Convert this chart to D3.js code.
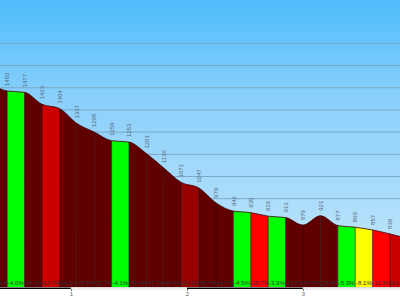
<!DOCTYPE html>
<html>
<head>
<meta charset="utf-8">
<script src="https://cdn.jsdelivr.net/npm/d3@7"></script>
<style>
  html, body { margin: 0; padding: 0; background: #ffffff; }
  svg { display: block; }
</style>
</head>
<body>
<div id="profile"></div>
<script>
// distance of every section boundary (km) and the elevation read there (m)
const DIST_KM = [0.30, 0.45, 0.60, 0.75, 0.90, 1.05, 1.20, 1.35, 1.50, 1.65, 1.80, 1.95, 2.10,
                 2.25, 2.40, 2.55, 2.70, 2.85, 3.00, 3.15, 3.30, 3.45, 3.60, 3.75, 3.90];
const ELEVATION = [1521, 1483, 1477, 1423, 1404, 1337, 1298, 1259, 1253, 1201, 1136, 1071, 1047,
                   979, 942, 935, 919, 913, 879, 921, 877, 869, 857, 839, 819];
// gradient of each section (%) as printed at the foot of the column
const GRADES = [-25.1, -4.0, -36.3, -12.7, -44.9, -25.8, -25.7, -4.1, -35.4, -43.7, -44.7, -16.1,
                -45.7, -24.7, -4.5, -10.7, -3.9, -23.0, 28.0, -28.9, -5.3, -8.1, -11.9, -13.3];
// km ticks and elevation grid lines
const KM_TICKS = [1, 2, 3];
const GRID_M = [1000, 1100, 1200, 1300, 1400, 1500, 1600, 1700];

const WIDTH = 400;
const HEIGHT = 300;
const BASE = 287;   // bottom of the coloured columns

const SVG = d3.select("#profile")
              .append("svg")
                .attr("width", WIDTH)
                .attr("height", HEIGHT);

// scales
const X_SCALE = d3.scaleLinear()
                  .domain([0, 1])
                  .range([-45, 71]);
const Y_SCALE = d3.scaleLinear()
                  .domain([600, 1893])
                  .range([BASE, 0]);

// colour of a column from the steepness of the section
const COLOR = d3.scaleThreshold()
                .domain([6, 10, 12, 15, 20])
                .range(["#00ff00", "#ffff00", "#ff0000", "#cc0000", "#990000", "#600000"]);

const POINTS = DIST_KM.map((d, i) => ({km: d, ele: ELEVATION[i]}));
const SECTIONS = GRADES.map((g, i) => ({from: DIST_KM[i], to: DIST_KM[i + 1], grade: g}));

const defs = SVG.append("defs");

// sky
const sky = defs.append("linearGradient")
                .attr("id", "sky")
                .attr("x1", 0).attr("y1", 0)
                .attr("x2", 0).attr("y2", 1);
sky.append("stop").attr("offset", "0%").attr("stop-color", "#4fbdfc");
sky.append("stop").attr("offset", "35%").attr("stop-color", "#8bd0fb");
sky.append("stop").attr("offset", "100%").attr("stop-color", "#c9e9fa");

SVG.append("rect")
     .attr("x", 0)
     .attr("y", 0)
     .attr("width", WIDTH)
     .attr("height", BASE)
     .attr("fill", "url(#sky)");

// elevation grid
SVG.selectAll("gridlines")
     .data(GRID_M)
     .enter()
     .append("line")
       .attr("x1", 0)
       .attr("x2", WIDTH)
       .attr("y1", (d) => {return Y_SCALE(d) + 0.5;})
       .attr("y2", (d) => {return Y_SCALE(d) + 0.5;})
       .attr("stroke", "#7aaac4")
       .attr("stroke-width", 1);

// smooth profile shape used as a clip for the columns
const AREA = d3.area()
               .x((d) => {return X_SCALE(d.km);})
               .y0(BASE)
               .y1((d) => {return Y_SCALE(d.ele);})
               .curve(d3.curveMonotoneX);
const LINE = d3.line()
               .x((d) => {return X_SCALE(d.km);})
               .y((d) => {return Y_SCALE(d.ele);})
               .curve(d3.curveMonotoneX);

defs.append("clipPath")
      .attr("id", "ground")
    .append("path")
      .attr("d", AREA(POINTS));

const ground = SVG.append("g").attr("clip-path", "url(#ground)");

ground.selectAll("columns")
        .data(SECTIONS)
        .enter()
        .append("rect")
          .attr("x", (d) => {return X_SCALE(d.from);})
          .attr("y", 0)
          .attr("width", (d) => {return X_SCALE(d.to) - X_SCALE(d.from);})
          .attr("height", BASE)
          .attr("fill", (d) => {return COLOR(Math.abs(d.grade));});

// dark separators between columns
ground.selectAll("separators")
        .data(POINTS)
        .enter()
        .append("line")
          .attr("x1", (d) => {return X_SCALE(d.km);})
          .attr("x2", (d) => {return X_SCALE(d.km);})
          .attr("y1", 0)
          .attr("y2", BASE)
          .attr("stroke", "#2a0000")
          .attr("stroke-width", 0.6);

// outline of the profile
SVG.append("path")
     .attr("d", LINE(POINTS))
     .attr("fill", "none")
     .attr("stroke", "#3a0000")
     .attr("stroke-width", 0.8);

// elevation labels above the profile (only the ones inside the frame)
SVG.selectAll("elevations")
     .data(POINTS.filter((d) => {return X_SCALE(d.km) > 0 && X_SCALE(d.km) < WIDTH;}))
     .enter()
     .append("text")
       .attr("transform", (d) => {
         return "translate(" + X_SCALE(d.km) + "," + (Y_SCALE(d.ele) - 5) + ") rotate(-90)";
       })
       .attr("dy", "0.35em")
       .attr("font-family", "Liberation Sans, Arial, sans-serif")
       .attr("font-size", "6px")
       .attr("fill", "#56697a")
       .text((d) => {return d.ele;});

// gradient labels at the foot of the columns
SVG.selectAll("grades")
     .data(SECTIONS)
     .enter()
     .append("text")
       .attr("x", (d) => {return (X_SCALE(d.from) + X_SCALE(d.to)) / 2;})
       .attr("y", 284.5)
       .attr("text-anchor", "middle")
       .attr("font-family", "Liberation Sans, Arial, sans-serif")
       .attr("font-size", "6px")
       .attr("fill", "#333333")
       .text((d) => {return d.grade.toFixed(1) + "%";});

// distance bar, alternating black and white kilometres
const KM_BANDS = [0, 1, 2, 3];
SVG.selectAll("bands")
     .data(KM_BANDS)
     .enter()
     .append("rect")
       .attr("x", (d) => {return X_SCALE(d);})
       .attr("y", BASE + 0.5)
       .attr("width", X_SCALE(1) - X_SCALE(0))
       .attr("height", 1.5)
       .attr("fill", (d) => {return d % 2 === 0 ? "#000000" : "#ffffff";})
       .attr("stroke", (d) => {return d % 2 === 0 ? "none" : "#bbbbbb";})
       .attr("stroke-width", 0.5);

// km axis
const axis = SVG.append("g")
                .attr("transform", "translate(0," + (BASE + 2) + ")")
                .call(d3.axisBottom(X_SCALE)
                        .tickValues(KM_TICKS)
                        .tickFormat(d3.format("d"))
                        .tickSize(2)
                        .tickPadding(1))
                  .attr("font-family", "Liberation Sans, Arial, sans-serif")
                  .attr("font-size", "6px");
axis.select(".domain").remove();
axis.selectAll(".tick line").attr("stroke", "#777777");
axis.selectAll(".tick text").attr("fill", "#666666");
</script>
</body>
</html>
